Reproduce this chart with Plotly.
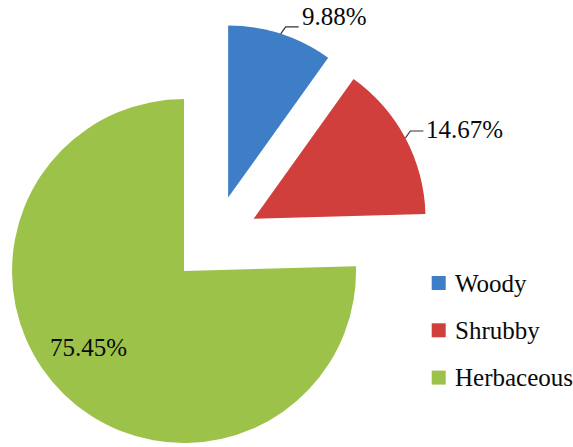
import math
import plotly.graph_objects as go

# ---- data ----
categories = ["Woody", "Shrubby", "Herbaceous"]
shares = [9.88, 14.67, 75.45]
pct_labels = ["9.88%", "14.67%", "75.45%"]

# ---- style / geometry (pixels) ----
colors = ["#3E7EC6", "#D13F3D", "#9CC24A"]
W, H = 573, 447
CX, CY = 214.7, 239.5     # pie centre
R = 172                    # slice radius
D = 44                     # explode distance
FONT = "Liberation Serif"
FS = 25
TXT = "#0a0a0a"

# label styles: (mode, a, b) ; outside labels get a bent leader
label_style = [("out", 0, -10), ("out", 0, -2), ("in", 0.71, 7)]

LEG_X, LEG_Y0, LEG_DY, SQ = 438.7, 283, 47.3, 14


def px(x):
    return x / W


def py(y):
    return 1 - y / H


fig = go.Figure()
total = sum(shares)
start = 0.0
geo = []
for i, v in enumerate(shares):
    span = 360.0 * v / total
    mid = start + span / 2
    m = math.radians(mid)
    ax_ = CX + D * math.sin(m)
    ay_ = CY - D * math.cos(m)
    geo.append((ax_, ay_, mid))
    cols = ["rgba(0,0,0,0)"] * len(shares)
    cols[i] = colors[i]
    fig.add_trace(go.Pie(
        values=shares, labels=categories, sort=False, direction="clockwise",
        rotation=0, marker=dict(colors=cols, line=dict(width=0)),
        textinfo="none", showlegend=False, hoverinfo="label+percent",
        domain=dict(x=[px(ax_ - R), px(ax_ + R)], y=[py(ay_ + R), py(ay_ - R)]),
    ))
    start += span

shapes = []
annotations = []
for i, (ax_, ay_, mid) in enumerate(geo):
    mode, a, b = label_style[i]
    if mode == "out":
        m = math.radians(mid)
        p = (ax_ + R * math.sin(m), ay_ - R * math.cos(m))
        e = (p[0] + 5, p[1] - 7)
        f = (p[0] + 18, p[1] - 7)
        shapes.append(dict(type="path", xref="paper", yref="paper",
                           path=f"M {px(p[0])},{py(p[1])} L {px(e[0])},{py(e[1])} L {px(f[0])},{py(f[1])}",
                           line=dict(color="#333333", width=1.2)))
        annotations.append(dict(x=px(f[0] + 1), y=py(p[1] - 7 + b), xref="paper", yref="paper",
                                text=pct_labels[i], showarrow=False, xanchor="left", yanchor="middle",
                                font=dict(family=FONT, size=FS, color=TXT)))
    else:
        m = math.radians(mid + b)
        t = (ax_ + a * R * math.sin(m), ay_ - a * R * math.cos(m))
        annotations.append(dict(x=px(t[0]), y=py(t[1]), xref="paper", yref="paper",
                                text=pct_labels[i], showarrow=False, xanchor="center", yanchor="middle",
                                font=dict(family=FONT, size=FS, color=TXT)))

# legend
for i, c in enumerate(categories):
    yy = LEG_Y0 + i * LEG_DY
    shapes.append(dict(type="rect", xref="paper", yref="paper",
                       x0=px(LEG_X - SQ / 2), x1=px(LEG_X + SQ / 2),
                       y0=py(yy + SQ / 2), y1=py(yy - SQ / 2),
                       fillcolor=colors[i], line=dict(width=0)))
    annotations.append(dict(x=px(LEG_X + 14), y=py(yy), xref="paper", yref="paper",
                            text=c, showarrow=False, xanchor="left", yanchor="middle",
                            font=dict(family=FONT, size=FS, color=TXT)))

fig.update_layout(
    width=W, height=H, margin=dict(l=0, r=0, t=0, b=0),
    paper_bgcolor="white", plot_bgcolor="white",
    shapes=shapes, annotations=annotations, showlegend=False,
)

fig.write_html("out.html")
